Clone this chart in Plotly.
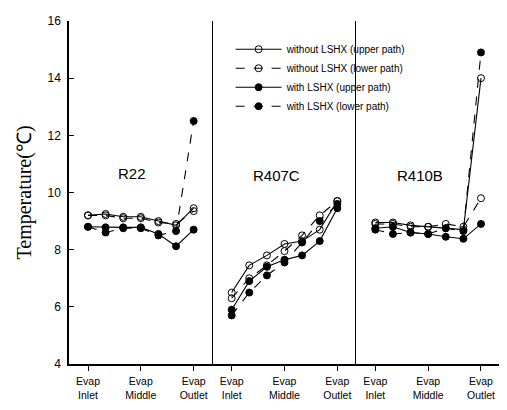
import plotly.graph_objects as go
from plotly.subplots import make_subplots

# measurement positions along evaporator (0=Inlet, 1=Middle, 2=Outlet)
positions = [0, 0.333, 0.667, 1, 1.333, 1.667, 2]
tick_vals = [0, 1, 2]
tick_text = ["Evap<br>Inlet", "Evap<br>Middle", "Evap<br>Outlet"]
refrigerants = ["R22", "R407C", "R410B"]

# without LSHX, upper path
r22_wo_up = [9.2, 9.25, 9.15, 9.15, 9.0, 8.85, 9.45]
r407c_wo_up = [6.5, 7.45, 7.8, 8.2, 8.3, 8.7, 9.7]
r410b_wo_up = [8.95, 8.95, 8.85, 8.8, 8.75, 8.7, 14.0]
# without LSHX, lower path
r22_wo_low = [9.2, 9.2, 9.1, 9.1, 8.95, 8.9, 9.35]
r407c_wo_low = [6.3, 7.0, 7.45, 7.95, 8.5, 9.2, 9.7]
r410b_wo_low = [8.9, 8.9, 8.8, 8.8, 8.9, 8.8, 9.8]
# with LSHX, upper path
r22_w_up = [8.8, 8.78, 8.78, 8.78, 8.55, 8.12, 8.7]
r407c_w_up = [5.9, 6.9, 7.4, 7.65, 7.8, 8.3, 9.45]
r410b_w_up = [8.75, 8.8, 8.6, 8.55, 8.45, 8.38, 8.9]
# with LSHX, lower path
r22_w_low = [8.8, 8.6, 8.75, 8.75, 8.5, 8.65, 12.5]
r407c_w_low = [5.7, 6.5, 7.1, 7.55, 8.25, 9.0, 9.6]
r410b_w_low = [8.7, 8.55, 8.6, 8.55, 8.75, 8.65, 14.9]

series = [
    ("without LSHX (upper path)", [r22_wo_up, r407c_wo_up, r410b_wo_up], "solid", "circle-open"),
    ("without LSHX (lower path)", [r22_wo_low, r407c_wo_low, r410b_wo_low], "dash", "circle-open"),
    ("with LSHX (upper path)", [r22_w_up, r407c_w_up, r410b_w_up], "solid", "circle"),
    ("with LSHX (lower path)", [r22_w_low, r407c_w_low, r410b_w_low], "dash", "circle"),
]

label_x = [0.83, 0.85, 0.85]
label_y = [10.67, 10.6, 10.6]

fig = make_subplots(rows=1, cols=3, shared_yaxes=True, horizontal_spacing=0)

for name, vals, dash, sym in series:
    for i, v in enumerate(vals):
        fig.add_trace(go.Scatter(
            x=positions, y=v, mode="lines+markers", name=name,
            legendgroup=name, showlegend=(i == 0),
            line=dict(color="black", width=1.1, dash=dash),
            marker=dict(symbol=sym, size=7, color="black",
                        line=dict(color="black", width=1)),
        ), row=1, col=i + 1)

for i, r in enumerate(refrigerants):
    fig.add_annotation(x=label_x[i], y=label_y[i], xref=f"x{i+1 if i else ''}", yref="y",
                       text=r, showarrow=False,
                       font=dict(family="Liberation Sans", size=15, color="black"))

for i in range(3):
    fig.update_xaxes(range=[-0.36, 2.36], tickvals=tick_vals, ticktext=tick_text,
                     ticks="outside", ticklen=5, tickcolor="black",
                     showline=True, linecolor="black", linewidth=1.5,
                     showgrid=False, zeroline=False, ticklabelstandoff=2,
                     tickfont=dict(family="Liberation Sans", size=10.5, color="black"),
                     row=1, col=i + 1)

fig.update_yaxes(range=[4, 16], dtick=2, showgrid=False, zeroline=False,
                 showline=True, linecolor="black", linewidth=1.2)
fig.update_yaxes(ticks="inside", ticklen=5, tickcolor="black", linewidth=1.5,
                 ticklabelstandoff=4,
                 tickfont=dict(family="Liberation Sans", size=12, color="black"),
                 title=dict(text="Temperature(℃)", standoff=10,
                            font=dict(family="Liberation Serif", size=20, color="black")),
                 row=1, col=1)
fig.update_yaxes(ticks="", showticklabels=False, row=1, col=2)
fig.update_yaxes(ticks="", showticklabels=False, mirror=True, row=1, col=3)

# page body has an 8px default margin; compensate so the plot lands in place
fig.update_layout(
    width=499, height=402,
    margin=dict(l=61, r=6, t=7, b=46),
    paper_bgcolor="white", plot_bgcolor="white",
    legend=dict(x=0.375, y=0.96, xanchor="left", yanchor="top",
                bgcolor="rgba(255,255,255,0)", borderwidth=0,
                font=dict(family="Liberation Sans", size=10, color="black"),
                tracegroupgap=0, itemwidth=46),
)

fig.write_html("out.html")
